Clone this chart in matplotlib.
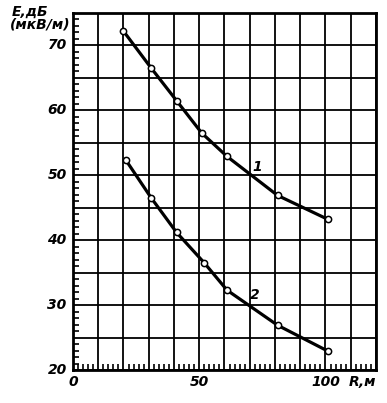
import matplotlib
matplotlib.use("Agg")
import matplotlib.pyplot as plt
from matplotlib.ticker import MultipleLocator

# curve 1 and curve 2: field strength E (dB re 1 uV/m) vs distance R (m)
r1 = [20, 31, 41, 51, 61, 81, 101]
e1 = [72.2, 66.5, 61.5, 56.5, 52.9, 46.9, 43.2]
r2 = [21, 31, 41, 52, 61, 81, 101]
e2 = [52.3, 46.5, 41.2, 36.5, 32.3, 26.9, 22.9]

x_ticks = [0, 50, 100]
y_ticks = [20, 30, 40, 50, 60, 70]

W, H = 387, 403
fig = plt.figure(figsize=(W / 100, H / 100), dpi=100)
ax = fig.add_axes([73 / W, 1 - 370 / H, (376 - 73) / W, (370 - 13) / H])

font = dict(family=["Liberation Sans Narrow", "DejaVu Sans"], style="italic",
            weight="bold", size=10)

ax.set_xlim(0, 120)
ax.set_ylim(20, 75)

# grid every 10 m / 5 dB
ax.set_xticks(range(0, 121, 10), minor=False)
ax.set_yticks(range(20, 76, 5), minor=False)
ax.grid(True, color="black", lw=1.3)
ax.set_xticklabels([])
ax.set_yticklabels([])
ax.tick_params(which="major", length=0)
ax.xaxis.set_minor_locator(MultipleLocator(2))
ax.yaxis.set_minor_locator(MultipleLocator(1))
ax.tick_params(which="minor", direction="in", length=4, width=1.2,
               top=False, right=False, color="black")
for s in ax.spines.values():
    s.set_linewidth(2)

for r, e in [(r1, e1), (r2, e2)]:
    ax.plot(r, e, color="black", lw=2.3, zorder=3)
    ax.plot(r, e, ls="none", marker="o", ms=4.5, mfc="white", mec="black",
            mew=1.1, zorder=4)

ax.text(73, 51.2, "1", ha="center", va="center", zorder=5, **font)
ax.text(72, 31.5, "2", ha="center", va="center", zorder=5, **font)

for y in y_ticks:
    ax.text(-2.5, y, str(y), ha="right", va="center", clip_on=False, **font)
for x in x_ticks:
    ax.text(x, 18.2, str(x), ha="center", va="center", clip_on=False, **font)
ax.text(109, 18.2, "R,м", ha="left", va="center", clip_on=False, **font)

fig.text(12 / W, 1 - 12 / H, "E,дБ", ha="left", va="center", **font)
fig.text(10 / W, 1 - 25 / H, "(мкВ/м)", ha="left", va="center", **font)

fig.savefig("out.png", dpi=100)
